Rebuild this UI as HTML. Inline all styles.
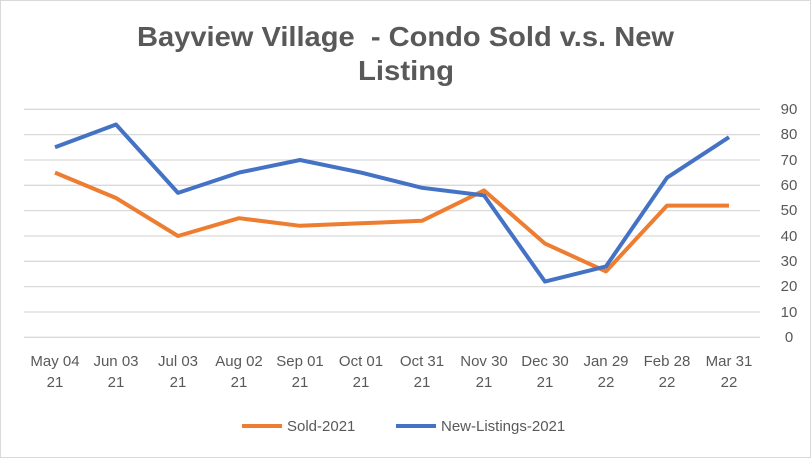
<!DOCTYPE html>
<html><head><meta charset="utf-8"><style>
body{margin:0;background:#fff}
svg{display:block;font-family:"Liberation Sans",sans-serif}
</style></head><body>
<svg width="811" height="458" viewBox="0 0 811 458">
<rect x="0.5" y="0.5" width="810" height="457" fill="#fff" stroke="#d9d9d9"/>
<text x="137" y="46" font-size="28" font-weight="bold" fill="#595959" textLength="537" lengthAdjust="spacingAndGlyphs" xml:space="preserve">Bayview Village  - Condo Sold v.s. New</text>
<text x="358" y="80" font-size="28" font-weight="bold" fill="#595959" textLength="96" lengthAdjust="spacingAndGlyphs">Listing</text>
<g stroke="#d9d9d9" stroke-width="1.3">
<line x1="24" x2="760" y1="109.3" y2="109.3"/><line x1="24" x2="760" y1="134.6" y2="134.6"/>
<line x1="24" x2="760" y1="160" y2="160"/><line x1="24" x2="760" y1="185.3" y2="185.3"/>
<line x1="24" x2="760" y1="210.6" y2="210.6"/><line x1="24" x2="760" y1="236" y2="236"/>
<line x1="24" x2="760" y1="261.3" y2="261.3"/><line x1="24" x2="760" y1="286.6" y2="286.6"/>
<line x1="24" x2="760" y1="312" y2="312"/><line x1="24" x2="760" y1="337.3" y2="337.3"/>
</g>
<g font-size="15" fill="#595959" text-anchor="middle">
<text x="789" y="114">90</text><text x="789" y="139">80</text><text x="789" y="165">70</text>
<text x="789" y="190">60</text><text x="789" y="215">50</text><text x="789" y="241">40</text>
<text x="789" y="266">30</text><text x="789" y="291">20</text><text x="789" y="317">10</text>
<text x="789" y="342">0</text>
<g>
<text x="55" y="366">May 04</text><text x="55" y="387">21</text>
<text x="116" y="366">Jun 03</text><text x="116" y="387">21</text>
<text x="178" y="366">Jul 03</text><text x="178" y="387">21</text>
<text x="239" y="366">Aug 02</text><text x="239" y="387">21</text>
<text x="300" y="366">Sep 01</text><text x="300" y="387">21</text>
<text x="361" y="366">Oct 01</text><text x="361" y="387">21</text>
<text x="422" y="366">Oct 31</text><text x="422" y="387">21</text>
<text x="484" y="366">Nov 30</text><text x="484" y="387">21</text>
<text x="545" y="366">Dec 30</text><text x="545" y="387">21</text>
<text x="606" y="366">Jan 29</text><text x="606" y="387">22</text>
<text x="667" y="366">Feb 28</text><text x="667" y="387">22</text>
<text x="729" y="366">Mar 31</text><text x="729" y="387">22</text>
</g></g>
<polyline fill="none" stroke="#ed7d31" stroke-width="4" stroke-linejoin="round" points="55,172.6 116,198 178,236 239,218.2 300,225.8 361,223.3 422,220.8 484,190.4 545,243.6 606,271.4 667,205.6 729,205.6"/>
<polyline fill="none" stroke="#4472c4" stroke-width="4" stroke-linejoin="round" points="55,147.3 116,124.5 178,192.9 239,172.6 300,160 361,172.6 422,187.8 484,195.4 545,281.6 606,266.4 667,177.7 729,137.2"/>
<line x1="242" x2="282" y1="426" y2="426" stroke="#ed7d31" stroke-width="4"/>
<text x="287" y="431" font-size="15" fill="#595959">Sold-2021</text>
<line x1="396" x2="436" y1="426" y2="426" stroke="#4472c4" stroke-width="4"/>
<text x="441" y="431" font-size="15" fill="#595959">New-Listings-2021</text>
</svg>
</body></html>
